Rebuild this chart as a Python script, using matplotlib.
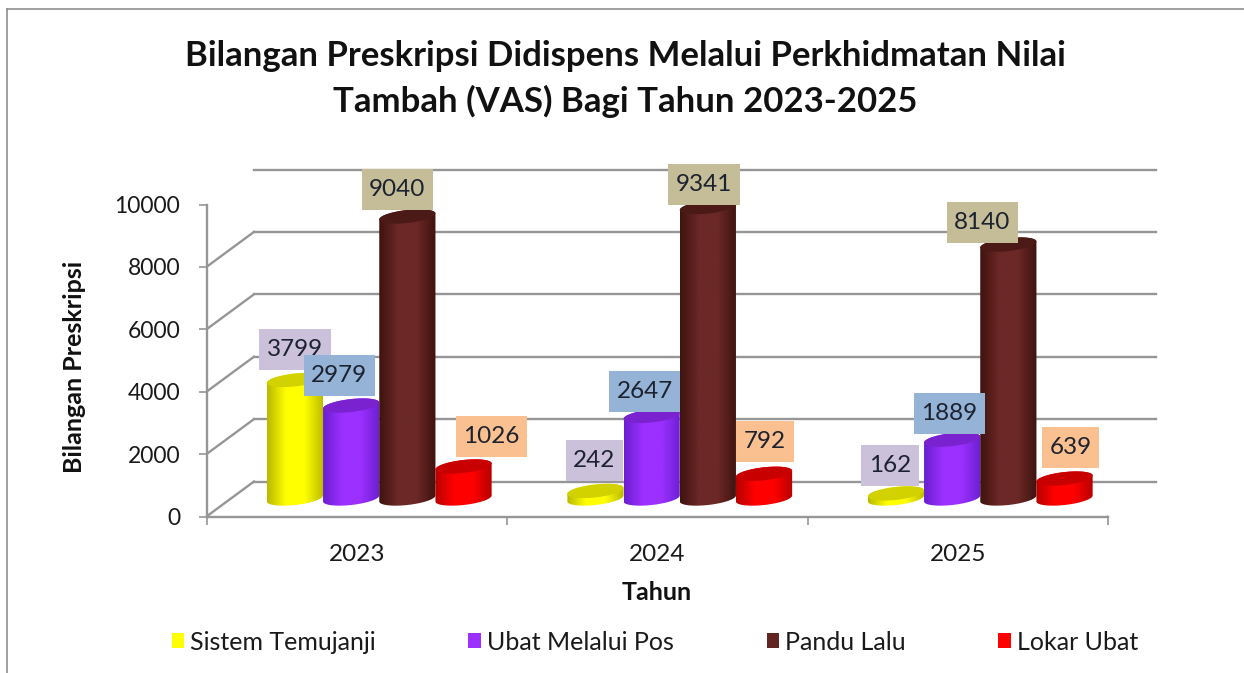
import numpy as np
import matplotlib
matplotlib.use("Agg")
import matplotlib.pyplot as plt
from matplotlib.colors import LinearSegmentedColormap
from matplotlib.lines import Line2D
from matplotlib.patches import PathPatch, Polygon, Patch
from matplotlib.path import Path
from matplotlib.transforms import Affine2D

TITLE = "Bilangan Preskripsi Didispens Melalui Perkhidmatan Nilai\nTambah (VAS) Bagi Tahun 2023-2025"
years = ["2023", "2024", "2025"]
series_names = ["Sistem Temujanji", "Ubat Melalui Pos", "Pandu Lalu", "Lokar Ubat"]
sistem_temujanji = [3799, 242, 162]
ubat_melalui_pos = [2979, 2647, 1889]
pandu_lalu = [9040, 9341, 8140]
lokar_ubat = [1026, 792, 639]
y_ticks = [0, 2000, 4000, 6000, 8000, 10000]

series_values = [sistem_temujanji, ubat_melalui_pos, pandu_lalu, lokar_ubat]
body = [("#b9b900", "#ffff00"), ("#6a1fd0", "#9b30ff"), ("#3f130f", "#6b2826"), ("#b80000", "#ff0000")]
top_col = ["#d2d200", "#7a22cf", "#4b1a16", "#c80000"]
solid = ["#ffff00", "#9b30ff", "#632523", "#ff0000"]
box_col = ["#ccc1da", "#95b3d7", "#c4bd97", "#fac090"]
# label offsets from each cylinder's top, pixels: per series, per year
label_dx = [[0, -1, -6], [-12, -7, -3], [-10, -4, -26], [28, 1, 6]]
label_dy = [[30, 30, 28], [30, 24, 26], [27, 23, 22], [30, 32, 31]]

FONT = "Lato"
plt.rcParams["font.family"] = [FONT, "DejaVu Sans"]
W, H = 1244, 673
fig = plt.figure(figsize=(W / 100, H / 100), dpi=100, facecolor="white")
L, R, T, B = 206.5, 1108, 204.5, 516.5
ax = fig.add_axes([L / W, 1 - B / H, (R - L) / W, (B - T) / H])
ax.patch.set_visible(False)
ax.set_xlim(0, 3)
ax.set_ylim(0, 10000)

GRID = "#969696"
back = ax.transData + Affine2D().translate(47.5, 35)
mid = ax.transData + Affine2D().translate(22.5, 18)

# outer image frame (left and top edges only)
for xs, ys in [((7.5, 7.5), (8.5, H)), ((7.5, W), (8.5, 8.5))]:
    fig.add_artist(Line2D(np.array(xs) / W, 1 - np.array(ys) / H, color="#8f8f8f", lw=1.2))

# back wall + side wall grid
for v in y_ticks:
    ax.plot([0, 3], [v, v], transform=back, color=GRID, lw=1.7, clip_on=False, zorder=1)
    x0, y0 = ax.transData.transform((0, v))
    ax.add_line(Line2D([x0, x0 + 47.5], [y0, y0 + 35], transform=None, color=GRID, lw=1.7, zorder=1))
x0, y0 = ax.transData.transform((3, 0))
ax.add_line(Line2D([x0, x0 + 47.5], [y0, y0 + 35], transform=None, color=GRID, lw=1.7, zorder=1))

# cylinders
bar_w = 0.187
px_y = 10000 / (B - T)
semi_h = 6.5 * px_y
tilt = 3.0 * px_y
t = np.linspace(0, 2 * np.pi, 90)


def rim(cx, base, a):
    return cx + bar_w / 2 * np.cos(a), base + semi_h * np.sin(a) + tilt * np.cos(a)


def label_box(x0, y0, width, height, mutation_size):
    """Rectangle around a label, wider padding vertically than horizontally."""
    px, py = 7.5, 10
    x1, y1 = x0 + width + px, y0 + height + py
    x0, y0 = x0 - px, y0 - py
    return Path([(x0, y0), (x1, y0), (x1, y1), (x0, y1), (x0, y0)], closed=True)


z = 3
for g in range(len(years)):
    for s in range(4):
        val = series_values[s][g]
        cx = g + 0.5 + (s - 1.5) * bar_w
        a_low = np.linspace(np.pi, 2 * np.pi, 45)
        a_up = np.linspace(0, np.pi, 45)
        xb, yb = rim(cx, 0, a_low)
        xt, yt = rim(cx, val, a_up)
        verts = np.r_[np.c_[xb, yb], np.c_[xt, yt], [[xb[0], yb[0]]]]
        clip = PathPatch(Path(verts), transform=mid, fc="none", ec="none", zorder=z, clip_on=False)
        ax.add_patch(clip)
        cmap = LinearSegmentedColormap.from_list("c", [body[s][0], body[s][1], body[s][1], body[s][0]])
        im = ax.imshow(np.linspace(0, 1, 128)[None, :], cmap=cmap, aspect="auto",
                       extent=(cx - bar_w / 2, cx + bar_w / 2, -2 * semi_h, val + 2 * semi_h),
                       transform=mid, zorder=z, interpolation="bilinear")
        im.set_clip_box(fig.bbox)
        im.set_clip_path(clip)
        xe, ye = rim(cx, val, t)
        ax.add_patch(Polygon(np.c_[xe, ye], closed=True, transform=mid, fc=top_col[s], ec="none",
                             zorder=z + 0.1, clip_on=False))
        z += 1
ax.set_xlim(0, 3)
ax.set_ylim(0, 10000)

# data labels
for g in range(len(years)):
    for s in range(4):
        val = series_values[s][g]
        cx = g + 0.5 + (s - 1.5) * bar_w
        ax.annotate(str(val), xy=(cx, val), xycoords=mid,
                    xytext=(label_dx[s][g], label_dy[s][g]), textcoords="offset pixels",
                    ha="center", va="center", fontsize=17.5, color="#1d2230", zorder=100 + s,
                    bbox=dict(boxstyle=label_box, fc=box_col[s], ec="none"))

# axes
for k in ["top", "right"]:
    ax.spines[k].set_visible(False)
for k in ["left", "bottom"]:
    ax.spines[k].set_color(GRID)
    ax.spines[k].set_linewidth(1.7)
ax.set_yticks(y_ticks)
ax.set_xticks([0, 1, 2, 3])
ax.set_xticklabels([])
ax.set_xticks([0.5, 1.5, 2.5], labels=years, minor=True)
ax.tick_params(axis="x", which="major", length=6, width=1.2, color=GRID)
ax.tick_params(axis="x", which="minor", length=0, labelsize=17.5, pad=19.5, colors="#1a1a1a")
ax.tick_params(axis="y", length=6, width=1.2, color=GRID, labelsize=16.5, pad=13, labelcolor="#1a1a1a")

fig.text(625 / W, 1 - 79 / H, TITLE, ha="center", va="center", fontsize=25, fontweight="bold",
         color="#111111", linespacing=1.45)
fig.text(75 / W, 1 - 367 / H, "Bilangan Preskripsi", rotation=90, ha="center", va="center",
         fontsize=18, fontweight="bold", color="#111111")
fig.text(657 / W, 1 - 592 / H, "Tahun", ha="center", va="center", fontsize=18,
         fontweight="bold", color="#111111")

handles = [Patch(fc=c, ec="none") for c in solid]
fig.legend(handles, series_names, ncol=4, loc="center", bbox_to_anchor=(655 / W, 1 - 642 / H),
           frameon=False, fontsize=18, handlelength=0.5, handleheight=0.55, handletextpad=0.25,
           columnspacing=3.7, labelcolor="#1a1a1a")

fig.savefig("out.png", dpi=100)
